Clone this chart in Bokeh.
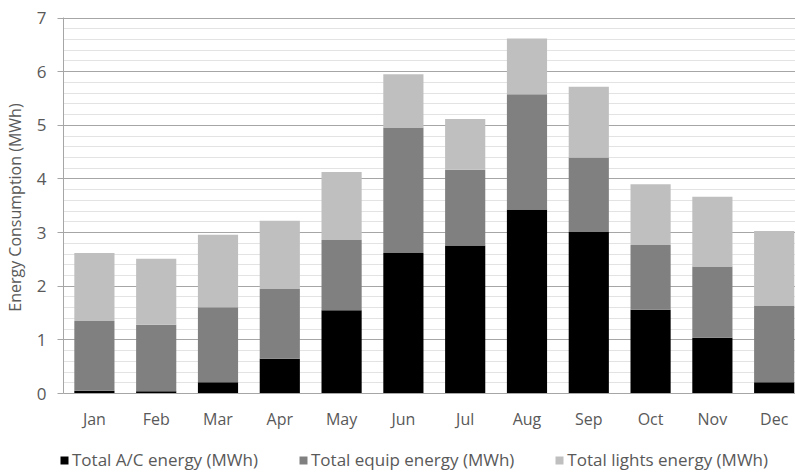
from bokeh.plotting import figure
from bokeh.layouts import column
from bokeh.models import (Range1d, FixedTicker, Legend, LegendItem)
from bokeh.embed import file_html
from bokeh.resources import INLINE

# Monthly energy consumption breakdown (MWh)
months = ["Jan", "Feb", "Mar", "Apr", "May", "Jun",
          "Jul", "Aug", "Sep", "Oct", "Nov", "Dec"]
ac_energy = [0.05, 0.04, 0.21, 0.65, 1.55, 2.62, 2.76, 3.43, 3.01, 1.56, 1.04, 0.21]
equip_energy = [1.30, 1.24, 1.40, 1.30, 1.31, 2.34, 1.41, 2.15, 1.39, 1.21, 1.33, 1.43]
lights_energy = [1.27, 1.23, 1.35, 1.27, 1.27, 0.99, 0.95, 1.04, 1.32, 1.13, 1.30, 1.39]

series_names = ["Total A/C energy (MWh)", "Total equip energy (MWh)",
                "Total lights energy (MWh)"]
series_colors = ["#000000", "#808080", "#bfbfbf"]
y_ticks = [0, 1, 2, 3, 4, 5, 6, 7]

FONT = "Open Sans"
TEXT_COLOR = "#595959"

x_pos = list(range(1, len(months) + 1))
data = {
    "x": x_pos,
    "ac": ac_energy,
    "equip": equip_energy,
    "lights": lights_energy,
}
stack_keys = ["ac", "equip", "lights"]

# ---- main stacked bar chart ----
p = figure(
    frame_width=732, frame_height=376,
    x_range=Range1d(0.5, 12.345),
    y_range=Range1d(0, 7.01),
    output_backend="svg",
    toolbar_location=None,
    min_border_left=63, min_border_right=0,
    min_border_top=17, min_border_bottom=46,
)
p.outline_line_color = None
p.background_fill_color = "white"
p.border_fill_color = "white"

p.vbar_stack(stack_keys, x="x", width=0.65,
             color=series_colors, line_color=None, source=data)

# Y axis: gridlines with minor lines every 0.2
p.yaxis.ticker = FixedTicker(ticks=y_ticks,
                             minor_ticks=[i * 0.2 for i in range(36)])
p.ygrid.grid_line_color = "#a6a6a6"
p.ygrid.grid_line_width = 1
p.ygrid.minor_grid_line_color = "#e3e3e3"
p.ygrid.minor_grid_line_width = 1
p.xgrid.grid_line_color = None

p.yaxis.axis_line_color = "#a6a6a6"
p.yaxis.major_tick_line_color = "#a6a6a6"
p.yaxis.major_tick_out = 6
p.yaxis.major_tick_in = 0
p.yaxis.minor_tick_line_color = None
p.yaxis.major_label_text_font = FONT
p.yaxis.major_label_text_font_size = "17px"
p.yaxis.major_label_text_color = TEXT_COLOR
p.yaxis.major_label_standoff = 11
p.yaxis.axis_label = "Energy Consumption  (MWh)"
p.yaxis.axis_label_text_font = FONT
p.yaxis.axis_label_text_font_size = "16px"
p.yaxis.axis_label_text_font_style = "normal"
p.yaxis.axis_label_text_color = TEXT_COLOR
p.yaxis.axis_label_standoff = 8

p.xaxis.ticker = FixedTicker(ticks=x_pos)
p.xaxis.major_label_overrides = {x: m for x, m in zip(x_pos, months)}
p.xaxis.axis_line_color = "#a6a6a6"
p.xaxis.major_tick_line_color = None
p.xaxis.minor_tick_line_color = None
p.xaxis.major_label_text_font = FONT
p.xaxis.major_label_text_font_size = "16px"
p.xaxis.major_label_text_color = TEXT_COLOR
p.xaxis.major_label_standoff = 8

# ---- legend strip underneath ----
leg = figure(
    width=795, height=34,
    x_range=Range1d(0, 1), y_range=Range1d(100, 101),
    output_backend="svg", toolbar_location=None,
    min_border=0,
)
if hasattr(leg, "frame_align"):
    leg.frame_align = False
    legend_x = 59
else:
    legend_x = 0
leg.axis.visible = False
leg.grid.visible = False
leg.outline_line_color = None
leg_renderers = leg.vbar_stack(stack_keys, x="x", width=0.65,
                               color=series_colors, line_color=None,
                               source=data)

legend = Legend(
    items=[LegendItem(label=n, renderers=[r])
           for n, r in zip(series_names, leg_renderers)],
    orientation="horizontal",
    location=(legend_x, 2),
    padding=0, margin=0, spacing=40,
    glyph_width=10, glyph_height=10, label_height=16,
    label_standoff=3,
    label_text_font=FONT, label_text_font_size="17px",
    label_text_color=TEXT_COLOR,
    border_line_color=None, background_fill_alpha=0,
)
leg.add_layout(legend, "center")

layout = column(p, leg, spacing=0)
open("out.html", "w").write(file_html(layout, INLINE))
